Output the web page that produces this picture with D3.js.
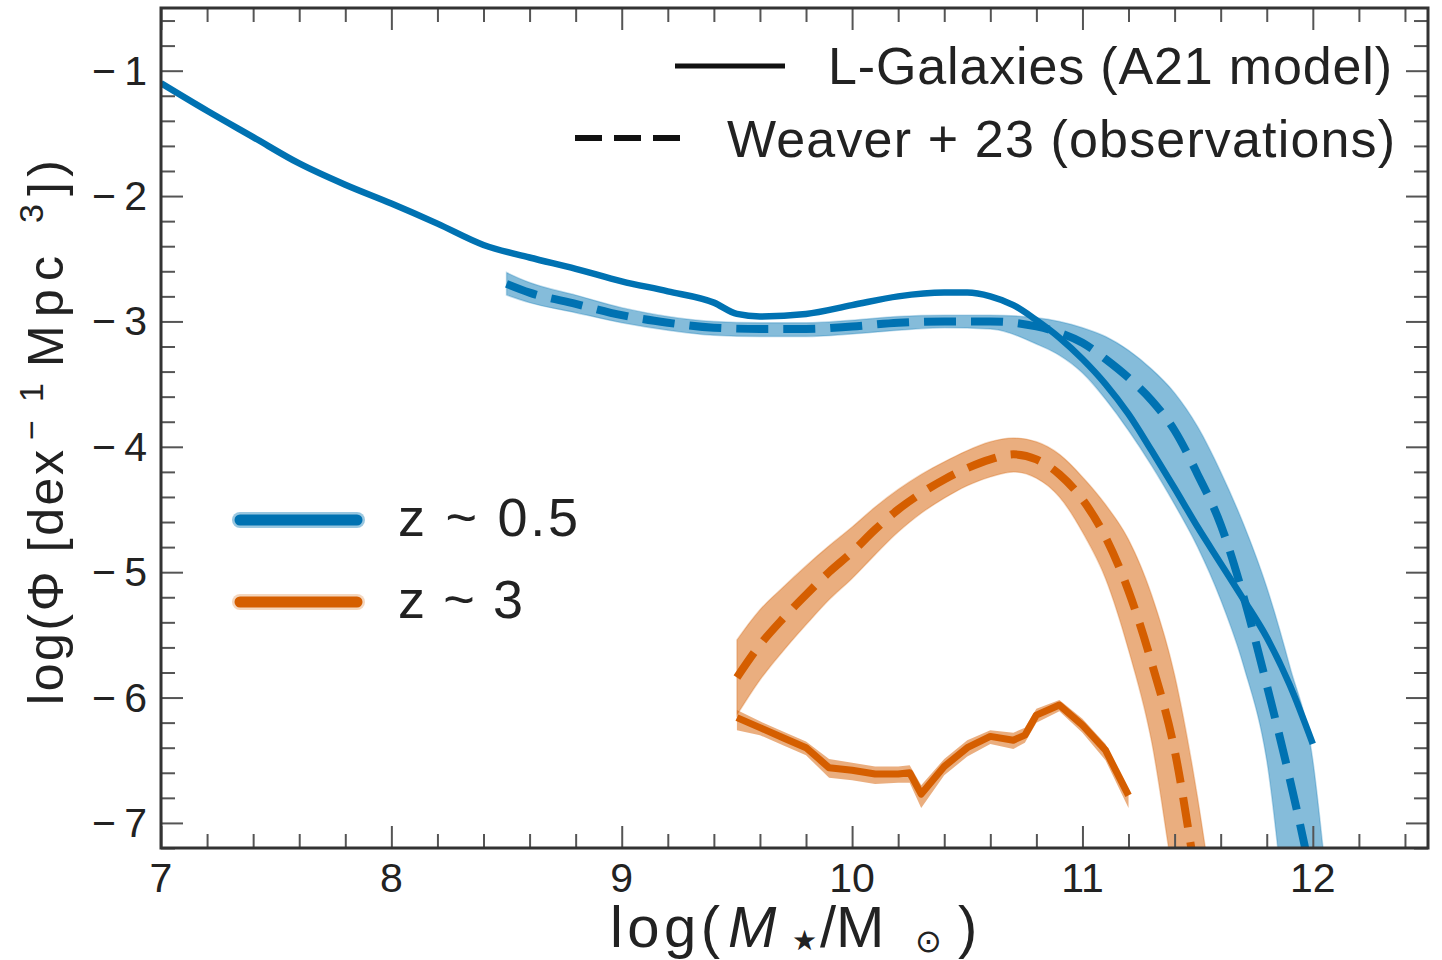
<!DOCTYPE html>
<html><head><meta charset="utf-8">
<script src="https://cdn.jsdelivr.net/npm/d3@7"></script>
<style>
body{margin:0;background:#fff}
text{font-family:"Liberation Sans",Arial,Helvetica,sans-serif;fill:#222}
</style>
</head><body>
<svg id="chart" width="1442" height="960"></svg>
<script>
// ---------- data ----------
const xTickValues = [7, 8, 9, 10, 11, 12];
const yTickValues = [-1, -2, -3, -4, -5, -6, -7];
const legendStyleLabels = ["L-Galaxies (A21 model)", "Weaver + 23 (observations)"];
const legendRedshiftLabels = ["z ~ 0.5", "z ~ 3"];

// L-Galaxies model, z~0.5
const lowzModelX = [7.0,7.2,7.4,7.6,7.8,8.0,8.2,8.4,8.6,8.8,9.0,9.2,9.4,9.5,9.6,9.8,10.0,10.2,10.4,10.5,10.6,10.7,10.8,10.9,11.0,11.1,11.2,11.3,11.4,11.5,11.6,11.7,11.8,11.9,12.0];
const lowzModelY = [-1.10,-1.32,-1.53,-1.74,-1.91,-2.06,-2.22,-2.39,-2.49,-2.58,-2.68,-2.76,-2.85,-2.94,-2.96,-2.94,-2.87,-2.80,-2.77,-2.77,-2.80,-2.87,-2.99,-3.13,-3.30,-3.50,-3.74,-4.03,-4.33,-4.64,-4.93,-5.22,-5.52,-5.90,-6.37];

// Weaver+23, z~0.5
const lowzObsX  = [8.5,8.6,8.8,9.0,9.2,9.4,9.6,9.8,10.0,10.2,10.4,10.6,10.8,10.9,11.0,11.1,11.2,11.3,11.4,11.5,11.6,11.7,11.8,11.9,12.0,12.05];
const lowzObsY  = [-2.70,-2.77,-2.86,-2.95,-3.01,-3.05,-3.06,-3.06,-3.04,-3.01,-3.00,-3.00,-3.04,-3.09,-3.17,-3.30,-3.45,-3.63,-3.87,-4.22,-4.62,-5.20,-5.90,-6.65,-7.50,-8.00];
const lowzObsHi = [-2.61,-2.69,-2.79,-2.89,-2.96,-3.00,-3.01,-3.01,-2.99,-2.96,-2.95,-2.95,-2.97,-3.00,-3.05,-3.12,-3.23,-3.38,-3.57,-3.84,-4.20,-4.62,-5.12,-5.75,-6.50,-7.30];
const lowzObsLo = [-2.79,-2.85,-2.93,-3.01,-3.07,-3.11,-3.12,-3.12,-3.10,-3.07,-3.05,-3.06,-3.18,-3.27,-3.41,-3.62,-3.87,-4.15,-4.46,-4.80,-5.22,-5.75,-6.50,-8.00,-9.00,-9.50];

// L-Galaxies model, z~3
const highzModelX  = [9.5,9.6,9.7,9.8,9.85,9.9,10.0,10.1,10.2,10.25,10.3,10.4,10.5,10.6,10.7,10.75,10.8,10.9,11.0,11.1,11.2];
const highzModelY  = [-6.16,-6.24,-6.32,-6.40,-6.48,-6.56,-6.58,-6.61,-6.61,-6.60,-6.77,-6.55,-6.40,-6.31,-6.34,-6.30,-6.14,-6.06,-6.22,-6.42,-6.78];
const highzModelHi = [-6.10,-6.19,-6.27,-6.35,-6.42,-6.49,-6.52,-6.55,-6.55,-6.54,-6.70,-6.49,-6.34,-6.26,-6.28,-6.24,-6.09,-6.02,-6.17,-6.37,-6.74];
const highzModelLo = [-6.26,-6.30,-6.38,-6.46,-6.55,-6.64,-6.66,-6.69,-6.68,-6.68,-6.88,-6.62,-6.47,-6.37,-6.41,-6.36,-6.20,-6.11,-6.28,-6.50,-6.88];

// Weaver+23, z~3
const highzObsX  = [9.5,9.6,9.7,9.8,9.9,10.0,10.1,10.2,10.3,10.4,10.5,10.6,10.7,10.8,10.9,11.0,11.1,11.2,11.3,11.4,11.5,11.55];
const highzObsY  = [-5.84,-5.58,-5.37,-5.18,-5.00,-4.84,-4.66,-4.50,-4.37,-4.26,-4.17,-4.10,-4.06,-4.10,-4.22,-4.42,-4.72,-5.15,-5.72,-6.42,-7.50,-8.00];
const highzObsHi = [-5.54,-5.30,-5.12,-4.95,-4.79,-4.64,-4.48,-4.34,-4.22,-4.12,-4.03,-3.96,-3.93,-3.96,-4.06,-4.24,-4.46,-4.74,-5.18,-5.82,-6.80,-7.40];
const highzObsLo = [-6.14,-5.86,-5.63,-5.42,-5.22,-5.05,-4.86,-4.68,-4.53,-4.41,-4.31,-4.24,-4.20,-4.25,-4.40,-4.68,-5.05,-5.62,-6.35,-7.50,-8.50,-9.00];

// ---------- layout ----------
const svg = d3.select("#chart");
const L = 161, R = 1428, T = 8, B = 848;
const x = d3.scaleLinear().domain([7, 12.5]).range([L, R]);
const y = d3.scaleLinear().domain([-7.2, -0.5]).range([B, T]);
const BLUE = "#0072B2", ORANGE = "#D55E00";
const BLUE_BAND = "rgba(0,114,178,0.48)", ORANGE_BAND = "rgba(213,94,0,0.5)";

svg.append("defs").append("clipPath").attr("id", "plotclip")
  .append("rect").attr("x", L).attr("y", T).attr("width", R - L).attr("height", B - T);

const plot = svg.append("g").attr("clip-path", "url(#plotclip)");

function rows(xs, ys, hi, lo) {
  return xs.map((v, i) => ({x: v, y: ys[i], hi: hi ? hi[i] : null, lo: lo ? lo[i] : null}));
}
const lowzModel = rows(lowzModelX, lowzModelY);
const lowzObs = rows(lowzObsX, lowzObsY, lowzObsHi, lowzObsLo);
const highzModel = rows(highzModelX, highzModelY, highzModelHi, highzModelLo);
const highzObs = rows(highzObsX, highzObsY, highzObsHi, highzObsLo);

const area = curve => d3.area().x(d => x(d.x)).y0(d => y(d.lo)).y1(d => y(d.hi)).curve(curve);
const line = curve => d3.line().x(d => x(d.x)).y(d => y(d.y)).curve(curve);

// bands
plot.append("path").datum(lowzObs).attr("d", area(d3.curveMonotoneX))
  .attr("fill", BLUE_BAND).attr("stroke", "rgba(0,114,178,0.25)").attr("stroke-width", 1.5);
plot.append("path").datum(highzObs).attr("d", area(d3.curveMonotoneX))
  .attr("fill", ORANGE_BAND).attr("stroke", "rgba(213,94,0,0.25)").attr("stroke-width", 1.5);
plot.append("path").datum(highzModel).attr("d", area(d3.curveLinear))
  .attr("fill", ORANGE_BAND).attr("stroke", "none");

// lines
plot.append("path").datum(lowzObs).attr("d", line(d3.curveMonotoneX))
  .attr("fill", "none").attr("stroke", BLUE).attr("stroke-width", 8)
  .attr("stroke-dasharray", "32,15");
plot.append("path").datum(highzObs).attr("d", line(d3.curveMonotoneX))
  .attr("fill", "none").attr("stroke", ORANGE).attr("stroke-width", 8)
  .attr("stroke-dasharray", "30,15");
plot.append("path").datum(lowzModel).attr("d", line(d3.curveMonotoneX))
  .attr("fill", "none").attr("stroke", BLUE).attr("stroke-width", 6.5);
plot.append("path").datum(highzModel).attr("d", line(d3.curveLinear))
  .attr("fill", "none").attr("stroke", ORANGE).attr("stroke-width", 7)
  .attr("stroke-linejoin", "round");

// ---------- axes (inward ticks on all four sides) ----------
const xMinor = d3.range(7, 12.5001, 0.2).filter(v => Math.abs(v - Math.round(v)) > 1e-6);
const yMinor = d3.range(-7.2, -0.4999, 0.2).filter(v => Math.abs(v - Math.round(v)) > 1e-6);
const tickColor = "#555";

function drawAxis(axis, transform, values, size) {
  const g = svg.append("g").attr("transform", transform)
    .call(axis.tickValues(values).tickSize(size).tickFormat(""));
  g.select(".domain").remove();
  g.selectAll(".tick line").attr("stroke", tickColor).attr("stroke-width", 2);
  return g;
}
drawAxis(d3.axisTop(x), `translate(0,${B})`, xTickValues, 22);
drawAxis(d3.axisTop(x), `translate(0,${B})`, xMinor, 14);
drawAxis(d3.axisBottom(x), `translate(0,${T})`, xTickValues, 22);
drawAxis(d3.axisBottom(x), `translate(0,${T})`, xMinor, 14);
drawAxis(d3.axisRight(y), `translate(${L},0)`, yTickValues, 22);
drawAxis(d3.axisRight(y), `translate(${L},0)`, yMinor, 14);
drawAxis(d3.axisLeft(y), `translate(${R},0)`, yTickValues, 22);
drawAxis(d3.axisLeft(y), `translate(${R},0)`, yMinor, 14);

// frame
svg.append("rect").attr("x", L).attr("y", T).attr("width", R - L).attr("height", B - T)
  .attr("fill", "none").attr("stroke", "#333").attr("stroke-width", 3);

// tick labels
svg.append("g").selectAll("text").data(xTickValues).join("text")
  .attr("x", d => x(d)).attr("y", 892).attr("text-anchor", "middle")
  .attr("font-size", 41).text(d => d);
svg.append("g").selectAll("text").data(yTickValues).join("text")
  .attr("x", 147).attr("y", d => y(d) + 14).attr("text-anchor", "end")
  .attr("font-size", 41).attr("textLength", 55).attr("lengthAdjust", "spacing")
  .text(d => "\u2212" + Math.abs(d));

// ---------- axis titles ----------
const xt = svg.append("g");
xt.append("text").attr("x", 610).attr("y", 947).attr("font-size", 58)
  .attr("textLength", 110).attr("lengthAdjust", "spacing").text("log(");
xt.append("text").attr("x", 728).attr("y", 947).attr("font-size", 58)
  .attr("font-style", "italic").text("M");
xt.append("text").attr("x", 792).attr("y", 950).attr("font-size", 28).text("\u2605");
xt.append("text").attr("x", 820).attr("y", 947).attr("font-size", 58).text("/M");
xt.append("text").attr("x", 915).attr("y", 952).attr("font-size", 32)
  .style("font-family", "DejaVu Sans").text("\u2299");
xt.append("text").attr("x", 958).attr("y", 947).attr("font-size", 58).text(")");

const yt = svg.append("g").attr("transform", "translate(63,0) rotate(-90)");
yt.append("text").attr("x", -705).attr("y", 0).attr("font-size", 50)
  .attr("textLength", 255).attr("lengthAdjust", "spacing").text("log(\u03A6 [dex");
yt.append("text").attr("x", -440).attr("y", -20).attr("font-size", 34)
  .attr("textLength", 57).attr("lengthAdjust", "spacing").text("\u22121");
yt.append("text").attr("x", -367).attr("y", 0).attr("font-size", 50)
  .attr("textLength", 111).attr("lengthAdjust", "spacing").text("Mpc");
yt.append("text").attr("x", -223).attr("y", -20).attr("font-size", 34).text("3");
yt.append("text").attr("x", -196).attr("y", 0).attr("font-size", 50)
  .attr("textLength", 36).attr("lengthAdjust", "spacing").text("])");

// ---------- legends ----------
const lg = svg.append("g");
lg.append("line").attr("x1", 675).attr("x2", 785).attr("y1", 66).attr("y2", 66)
  .attr("stroke", "#111").attr("stroke-width", 5);
lg.append("line").attr("x1", 575).attr("x2", 683).attr("y1", 138).attr("y2", 138)
  .attr("stroke", "#111").attr("stroke-width", 6).attr("stroke-dasharray", "27,12");
lg.selectAll("text.style").data(legendStyleLabels).join("text").attr("class", "style")
  .attr("x", (d, i) => i === 0 ? 828 : 727).attr("y", (d, i) => i === 0 ? 84 : 157)
  .attr("font-size", 52)
  .attr("textLength", (d, i) => i === 0 ? 564 : 668).attr("lengthAdjust", "spacing")
  .text(d => d);

const zColors = [[BLUE, "rgba(0,114,178,0.4)"], [ORANGE, "rgba(213,94,0,0.25)"]];
legendRedshiftLabels.forEach((lab, i) => {
  const yy = 520 + i * 82;
  lg.append("line").attr("x1", 240).attr("x2", 357).attr("y1", yy).attr("y2", yy)
    .attr("stroke", zColors[i][1]).attr("stroke-width", 16).attr("stroke-linecap", "round");
  lg.append("line").attr("x1", 240).attr("x2", 357).attr("y1", yy).attr("y2", yy)
    .attr("stroke", zColors[i][0]).attr("stroke-width", 11).attr("stroke-linecap", "round");
  lg.append("text").attr("x", 398).attr("y", yy + 16).attr("font-size", 54)
    .attr("textLength", i === 0 ? 180 : 125).attr("lengthAdjust", "spacing").text(lab);
});
</script>
</body></html>
